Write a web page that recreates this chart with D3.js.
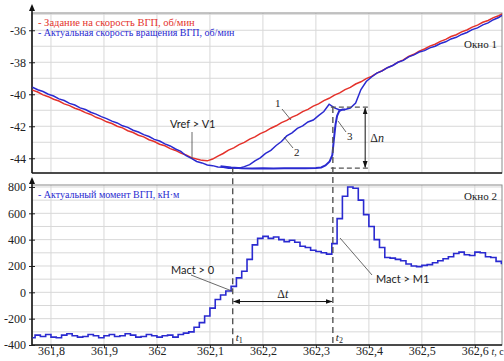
<!DOCTYPE html>
<html>
<head>
<meta charset="utf-8">
<script src="https://cdn.jsdelivr.net/npm/d3@7"></script>
<style>
  html, body { margin: 0; padding: 0; background: #fff; }
  svg { display: block; }
</style>
</head>
<body>
<svg id="chart" width="504" height="361"></svg>
<script>
// ---- Data -------------------------------------------------------------
// Samples are recorded every 10 ms starting at 361.765 s
const sampleStart = 361.765;
const sampleStep = 0.01;

// Speed set-point, rpm (curve 1)
const speedRef = [
  -39.74, -39.86, -40.04, -40.15, -40.31, -40.42, -40.60, -40.71, -40.87, -40.98,
  -41.15, -41.26, -41.44, -41.55, -41.72, -41.83, -42.00, -42.10, -42.28, -42.39,
  -42.56, -42.66, -42.84, -42.95, -43.12, -43.22, -43.40, -43.51, -43.68, -43.79,
  -43.96, -44.05, -44.13, -44.16, -44.05, -43.86, -43.70, -43.49, -43.35, -43.15,
  -43.01, -42.80, -42.66, -42.46, -42.32, -42.12, -41.97, -41.77, -41.63, -41.43,
  -41.29, -41.08, -40.94, -40.74, -40.60, -40.40, -40.25, -40.05, -39.91, -39.71,
  -39.57, -39.36, -39.22, -39.02, -38.88, -38.68, -38.53, -38.33, -38.19, -37.99,
  -37.85, -37.64, -37.50, -37.30, -37.17, -36.99, -36.87, -36.69, -36.57, -36.39,
  -36.28, -36.10, -35.98, -35.80, -35.68, -35.50, -35.39, -35.21, -35.09, -34.92
];

// Actual rotation speed, rpm (curve 2)
const speedAct = [
  -39.56, -39.72, -39.83, -40.00, -40.11, -40.29, -40.39, -40.57, -40.67, -40.85,
  -40.95, -41.12, -41.24, -41.40, -41.52, -41.68, -41.79, -41.97, -42.07, -42.25,
  -42.36, -42.52, -42.64, -42.82, -42.92, -43.10, -43.23, -43.42, -43.57, -43.84,
  -44.01, -44.20, -44.29, -44.42, -44.46, -44.55, -44.56, -44.62, -44.61, -44.62,
  -44.52, -44.40, -44.16, -43.97, -43.70, -43.50, -43.20, -42.95, -42.60, -42.41,
  -42.13, -41.98, -41.73, -41.61, -41.33, -41.08, -40.62, -40.85, -40.98, -40.95,
  -40.86, -40.55, -39.70, -39.20, -38.92, -38.68, -38.54, -38.34, -38.20, -38.00,
  -37.88, -37.66, -37.54, -37.36, -37.27, -37.10, -37.00, -36.83, -36.72, -36.54,
  -36.44, -36.26, -36.14, -35.96, -35.85, -35.66, -35.54, -35.34, -35.20, -35.00
];

// Actual speed with a delayed start (curve 3): time, s / speed, rpm
const jumpTime = [
  362.12, 362.14, 362.16, 362.18, 362.20, 362.22, 362.24, 362.26, 362.28, 362.30,
  362.31, 362.318, 362.326, 362.331, 362.334, 362.337, 362.340, 362.344, 362.350, 362.355
];
const jumpSpeed = [
  -44.50, -44.58, -44.63, -44.64, -44.63, -44.64, -44.62, -44.63, -44.62, -44.60,
  -44.57, -44.45, -44.20, -43.80, -42.80, -41.90, -41.35, -41.05, -40.95, -40.95
];

// Actual torque, kN·m
const torqueAct = [
  -345, -325, -335, -320, -340, -345, -325, -315, -330, -340,
  -335, -320, -330, -345, -330, -320, -335, -330, -315, -325,
  -340, -335, -320, -330, -340, -330, -325, -340, -320, -310,
  -300, -265, -230, -180, -120, -55, -20, 10, 45, 110,
  160, 250, 360, 410, 425, 410, 420, 400, 385, 395,
  380, 350, 340, 320, 310, 300, 290, 370, 560, 730,
  800, 790, 700, 590, 500, 400, 340, 265, 260, 250,
  240, 215, 200, 195, 205, 210, 225, 240, 255, 270,
  295, 305, 285, 280, 305, 300, 270, 265, 235, 220
];

// Axis ticks
const timeTicks = [361.8, 361.9, 362, 362.1, 362.2, 362.3, 362.4, 362.5, 362.6];
const speedTicks = [-44, -42, -40, -38, -36];
const speedGrid = [-44, -43, -42, -41, -40, -39, -38, -37, -36, -35];
const torqueTicks = [-400, -200, 0, 200, 400, 600, 800];
const torqueGrid = [-300, -200, -100, 0, 100, 200, 300, 400, 500, 600, 700, 800];

// Event markers
const t1 = 362.143, t2 = 362.332;
const dnHigh = -40.8, dnLow = -44.62;

// ---- Layout ------------------------------------------------------------
const svg = d3.select("#chart");
const L = 32, R = 502;
const top1 = 13, bot1 = 173;
const top2 = 185, bot2 = 345;

const x = d3.scaleLinear().domain([361.7642, 362.655]).range([32, 504]);
const yS = d3.scaleLinear().domain([-44.92, -34.92]).range([bot1, top1]);
const yM = d3.scaleLinear().domain([-400, 815]).range([bot2, top2]);

const serif = "'Liberation Serif', 'Times New Roman', serif";
const sans = "Lato, 'Liberation Sans', sans-serif";
const RED = "#e4322b", BLUE = "#2a2ad0", GRID = "#d8d8d8";

const tAt = i => sampleStart + i * sampleStep;
const fmtNum = d => String(d).replace(".", ",");

const defs = svg.append("defs");
[["clip1", top1, bot1], ["clip2", top2, bot2]].forEach(([id, a, b]) => {
  defs.append("clipPath").attr("id", id)
    .append("rect").attr("x", L).attr("y", a).attr("width", R - L).attr("height", b - a);
});
defs.append("marker").attr("id", "arr").attr("viewBox", "0 0 10 10")
  .attr("refX", 9).attr("refY", 5).attr("markerWidth", 7).attr("markerHeight", 7)
  .attr("orient", "auto-start-reverse")
  .append("path").attr("d", "M0,1.5 L10,5 L0,8.5 Z").attr("fill", "#111");

// ---- Grids and frames ---------------------------------------------------
function panel(y, grid, a, b) {
  const g = svg.append("g");
  g.selectAll(".vg").data(timeTicks).join("line")
    .attr("x1", d => x(d)).attr("x2", d => x(d)).attr("y1", a).attr("y2", b)
    .attr("stroke", GRID).attr("stroke-width", 1);
  g.selectAll(".hg").data(grid).join("line")
    .attr("x1", L).attr("x2", R).attr("y1", d => y(d)).attr("y2", d => y(d))
    .attr("stroke", GRID).attr("stroke-width", 1);
  g.append("rect").attr("x", L).attr("y", a).attr("width", R - L).attr("height", b - a)
    .attr("fill", "none").attr("stroke", "#8a8a8a").attr("stroke-width", 1);
  g.append("line").attr("x1", L).attr("x2", R).attr("y1", b).attr("y2", b)
    .attr("stroke", "#222").attr("stroke-width", 1.5);
}
panel(yS, speedGrid, top1, bot1);
panel(yM, torqueGrid, top2, bot2);

// ---- Y axes -------------------------------------------------------------
function yAxis(y, ticks, a, b) {
  const ax = svg.append("g").attr("transform", `translate(${L},0)`)
    .call(d3.axisLeft(y).tickValues(ticks).tickSize(3).tickFormat(d => String(d)));
  ax.select(".domain").remove();
  ax.selectAll(".tick line").attr("x2", 3).attr("x1", -3).attr("stroke", "#222");
  ax.selectAll(".tick text").attr("x", -6)
    .style("font-family", serif).style("font-size", "12px").attr("fill", "#222");
  svg.append("line").attr("x1", L).attr("x2", L).attr("y1", a + 6).attr("y2", b)
    .attr("stroke", "#111").attr("stroke-width", 1.5);
  svg.append("path").attr("d", `M${L - 3},${a + 6} L${L},${a - 1} L${L + 3},${a + 6} Z`)
    .attr("fill", "#111");
}
yAxis(yS, speedTicks, 5, bot1);
yAxis(yM, torqueTicks, 178, bot2);

// ---- X axis (bottom panel) ---------------------------------------------
const xa = svg.append("g").attr("transform", `translate(0,${bot2})`)
  .call(d3.axisBottom(x).tickValues(timeTicks).tickSize(3).tickFormat(fmtNum));
xa.select(".domain").remove();
xa.selectAll(".tick line").attr("stroke", "#222");
xa.selectAll(".tick text").attr("y", 1.5)
  .style("font-family", serif).style("font-size", "12px").attr("fill", "#222");
const tc = svg.append("text").attr("x", 491.5).attr("y", 355)
  .style("font-family", serif).style("font-size", "10px").attr("fill", "#222");
tc.append("tspan").style("font-style", "italic").text("t");
tc.append("tspan").text(", с");

// ---- Series -------------------------------------------------------------
const gS = svg.append("g").attr("clip-path", "url(#clip1)");
const lineIdx = y => d3.line().x((d, i) => x(tAt(i))).y(d => y(d));

gS.append("path").datum(speedRef).attr("d", lineIdx(yS))
  .attr("fill", "none").attr("stroke", RED).attr("stroke-width", 1.5);
gS.append("path").datum(speedAct).attr("d", lineIdx(yS))
  .attr("fill", "none").attr("stroke", BLUE).attr("stroke-width", 1.5);
gS.append("path").datum(jumpTime.map((t, i) => [t, jumpSpeed[i]]))
  .attr("d", d3.line().x(d => x(d[0])).y(d => yS(d[1])))
  .attr("fill", "none").attr("stroke", BLUE).attr("stroke-width", 2);

const gM = svg.append("g").attr("clip-path", "url(#clip2)");
gM.append("path").datum(torqueAct)
  .attr("d", d3.line().x((d, i) => x(tAt(i))).y(d => yM(d)).curve(d3.curveStep))
  .attr("fill", "none").attr("stroke", BLUE).attr("stroke-width", 1.6);

// ---- Event markers ------------------------------------------------------
const dashC = "#555";
svg.append("line").attr("x1", x(t1)).attr("x2", x(t1)).attr("y1", yS(dnLow)).attr("y2", bot2)
  .attr("stroke", dashC).attr("stroke-width", 1.4).attr("stroke-dasharray", "6,4");
svg.append("line").attr("x1", x(t2)).attr("x2", x(t2)).attr("y1", yS(dnHigh)).attr("y2", bot2)
  .attr("stroke", dashC).attr("stroke-width", 1.4).attr("stroke-dasharray", "6,4");

// Δn bracket
const dnX0 = x(t2) - 2, dnX1 = x(362.40);
[dnHigh, dnLow].forEach(v => {
  svg.append("line").attr("x1", dnX0).attr("x2", dnX1).attr("y1", yS(v)).attr("y2", yS(v))
    .attr("stroke", dashC).attr("stroke-width", 1.2).attr("stroke-dasharray", "5,3");
});
const dnArrowX = x(362.393);
svg.append("line").attr("x1", dnArrowX).attr("x2", dnArrowX)
  .attr("y1", yS(dnHigh) + 1).attr("y2", yS(dnLow) - 1)
  .attr("stroke", "#111").attr("stroke-width", 1)
  .attr("marker-start", "url(#arr)").attr("marker-end", "url(#arr)");
const dn = svg.append("text").attr("x", dnArrowX + 5).attr("y", (yS(dnHigh) + yS(dnLow)) / 2 + 4)
  .style("font-family", serif).style("font-size", "12px").attr("fill", "#222");
dn.append("tspan").text("Δ");
dn.append("tspan").style("font-style", "italic").text("n");

// Δt arrow
const dtY = yM(-70);
svg.append("line").attr("x1", x(t1) + 1).attr("x2", x(t2) - 1).attr("y1", dtY).attr("y2", dtY)
  .attr("stroke", "#111").attr("stroke-width", 1)
  .attr("marker-start", "url(#arr)").attr("marker-end", "url(#arr)");
const dt = svg.append("text").attr("x", (x(t1) + x(t2)) / 2).attr("y", dtY - 4)
  .attr("text-anchor", "middle")
  .style("font-family", serif).style("font-size", "12px").attr("fill", "#222");
dt.append("tspan").text("Δ");
dt.append("tspan").style("font-style", "italic").text("t");

[[t1, "1"], [t2, "2"]].forEach(([t, s]) => {
  const tx = svg.append("text").attr("x", x(t) + 3).attr("y", 341)
    .style("font-family", serif).style("font-size", "11px").attr("fill", "#222");
  tx.append("tspan").style("font-style", "italic").text("t");
  tx.append("tspan").attr("dy", 2).style("font-size", "8px").text(s);
});

// ---- Curve labels and leaders -----------------------------------------
const leader = (x1, y1, x2, y2) => svg.append("line")
  .attr("x1", x1).attr("y1", y1).attr("x2", x2).attr("y2", y2)
  .attr("stroke", "#444").attr("stroke-width", 0.8);
const label = (tx, ty, s, font, size) => svg.append("text").attr("x", tx).attr("y", ty)
  .style("font-family", font).style("font-size", size).attr("fill", "#222").text(s);

label(170, 128, "Vref > V1", sans, "11px");
leader(192, 132, 192, 159);

label(275, 107, "1", serif, "11px");
leader(282, 109, 291, 120);
label(294, 156, "2", serif, "11px");
leader(293, 148, 284, 137);
label(347, 140, "3", serif, "11px");
leader(346, 132, 338, 121);

label(171, 274, "Mact > 0", sans, "11px");
leader(191, 275, 232, 291);
label(376, 283, "Mact > M1", sans, "11px");
leader(372, 275, 340, 238);

// ---- Legends and window titles -----------------------------------------
svg.append("text").attr("x", 38).attr("y", 26)
  .style("font-family", serif).style("font-size", "10.5px").attr("fill", RED)
  .text("- Задание на скорость ВГП, об/мин");
svg.append("text").attr("x", 38).attr("y", 35.5)
  .style("font-family", serif).style("font-size", "10px").attr("fill", BLUE)
  .text("- Актуальная скорость вращения ВГП, об/мин");
svg.append("text").attr("x", 38).attr("y", 198)
  .style("font-family", serif).style("font-size", "10px").attr("fill", BLUE)
  .text("- Актуальный момент ВГП, кН·м");

svg.append("text").attr("x", 497).attr("y", 48).attr("text-anchor", "end")
  .style("font-family", serif).style("font-size", "11px").attr("fill", "#222").text("Окно 1");
svg.append("text").attr("x", 497).attr("y", 200).attr("text-anchor", "end")
  .style("font-family", serif).style("font-size", "11px").attr("fill", "#222").text("Окно 2");
</script>
</body>
</html>
